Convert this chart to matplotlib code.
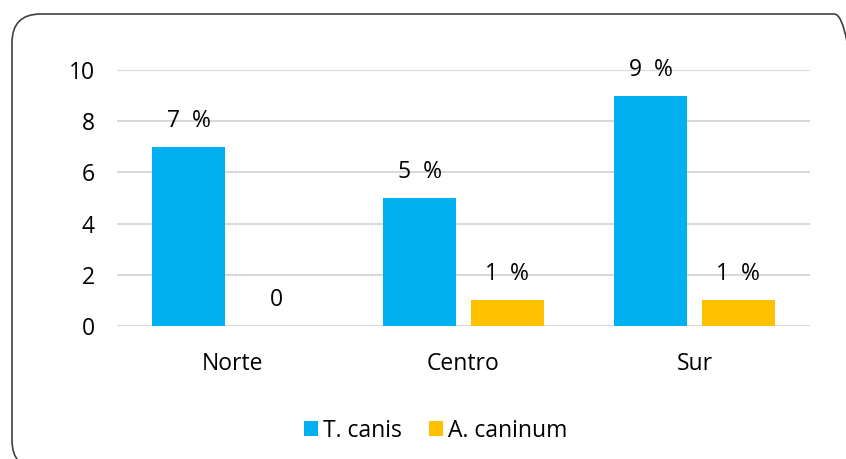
import matplotlib.pyplot as plt
from matplotlib.patches import FancyBboxPatch
import numpy as np

regions = ['Norte', 'Centro', 'Sur']
t_canis = [7, 5, 9]
a_caninum = [0, 1, 1]
t_labels = ['7  %', '5  %', '9  %']
a_labels = ['0', '1  %', '1  %']

plt.rcParams['font.family'] = ['Open Sans', 'DejaVu Sans']
fs = 16.5

fig = plt.figure(figsize=(8.46, 4.59), dpi=100)
ax = fig.add_axes([0.1383, 0.2898, 0.8191, 0.5577])

x = np.arange(len(regions))
w = 0.316
off = 0.19
b1 = ax.bar(x - off, t_canis, w, color='#00B0F0', label='T. canis', zorder=3)
b2 = ax.bar(x + off, a_caninum, w, color='#FFC000', label='A. caninum', zorder=3)

for bars, labels in ((b1, t_labels), (b2, a_labels)):
    for b, lab in zip(bars, labels):
        ax.annotate(lab, (b.get_x() + b.get_width() / 2, b.get_height()),
                    xytext=(0, 26), textcoords='offset pixels',
                    ha='center', va='center', fontsize=fs, color='black')

ax.set_xlim(-0.5, 2.5)
ax.set_ylim(0, 10)
ax.set_yticks(range(0, 11, 2))
ax.set_xticks(x)
ax.set_xticklabels(regions)
ax.tick_params(axis='both', length=0, labelsize=fs, colors='black')
ax.tick_params(axis='x', pad=19)
ax.tick_params(axis='y', pad=16)
ax.grid(axis='y', color='#D9D9D9', linewidth=1.5, zorder=0)
for s in ax.spines.values():
    s.set_visible(False)

fig.legend(loc='center', bbox_to_anchor=(0.515, 0.062), ncol=2, frameon=False,
           fontsize=fs, handlelength=0.6, handleheight=0.6, handletextpad=0.2,
           columnspacing=1.2)

frame = FancyBboxPatch((12 / 846, -10 / 459), 851 / 846, 455 / 459,
                       boxstyle='round,pad=0,rounding_size=0.034',
                       transform=fig.transFigure, fill=False,
                       edgecolor='#404040', linewidth=1.2,
                       mutation_aspect=846 / 459)
fig.add_artist(frame)

fig.savefig('out.png', dpi=100)
